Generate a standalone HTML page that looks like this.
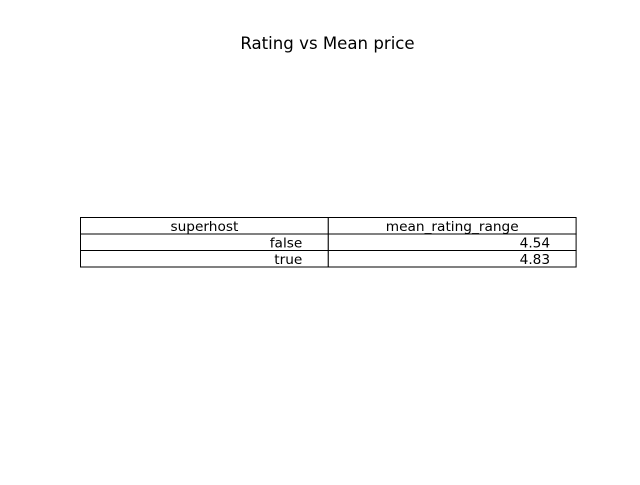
<!DOCTYPE html>
<html><head><meta charset="utf-8"><style>
html,body{margin:0;padding:0;background:#fff}
svg text{font-family:"DejaVu Sans","Liberation Sans",sans-serif;fill:#000}
</style></head><body>
<svg width="640" height="480" viewBox="0 0 640 480">
<rect width="640" height="480" fill="#fff"/>
<text x="327.5" y="49" font-size="16.6" text-anchor="middle">Rating vs Mean price</text>
<g id="tbl"></g>
</svg>
<script>
const headers = ["superhost", "mean_rating_range"];
const superhost = ["false", "true"];
const meanRating = ["4.54", "4.83"];
const g = document.getElementById('tbl');
const NS = 'http://www.w3.org/2000/svg';
const x0 = 80.5, colW = 247.8, y0 = 217.5, rowH = 16.5, pad = 26;
function cell(c, r, txt, anchor, name) {
  const x = x0 + c * colW, y = y0 + r * rowH;
  const rect = document.createElementNS(NS, 'rect');
  rect.setAttribute('x', x); rect.setAttribute('y', y);
  rect.setAttribute('width', colW); rect.setAttribute('height', rowH);
  rect.setAttribute('fill', '#fff'); rect.setAttribute('stroke', '#000'); rect.setAttribute('stroke-width', '1');
  
  
  g.appendChild(rect);
  const t = document.createElementNS(NS, 'text');
  t.setAttribute('y', y + rowH / 2 + 5);
  t.setAttribute('font-size', '13.7');
  if (anchor === 'middle') { t.setAttribute('x', x + colW / 2); t.setAttribute('text-anchor', 'middle'); }
  else { t.setAttribute('x', x + colW - pad); t.setAttribute('text-anchor', 'end'); }
  t.textContent = txt;
  
  
  g.appendChild(t);
}
headers.forEach((h, i) => cell(i, 0, h, 'middle', 'header-' + h.replace(/_/g, '-')));
superhost.forEach((s, i) => {
  cell(0, i + 1, s, 'end', 'superhost-' + s);
  cell(1, i + 1, meanRating[i], 'end', 'mean-rating-' + s);
});
</script>
</body></html>
